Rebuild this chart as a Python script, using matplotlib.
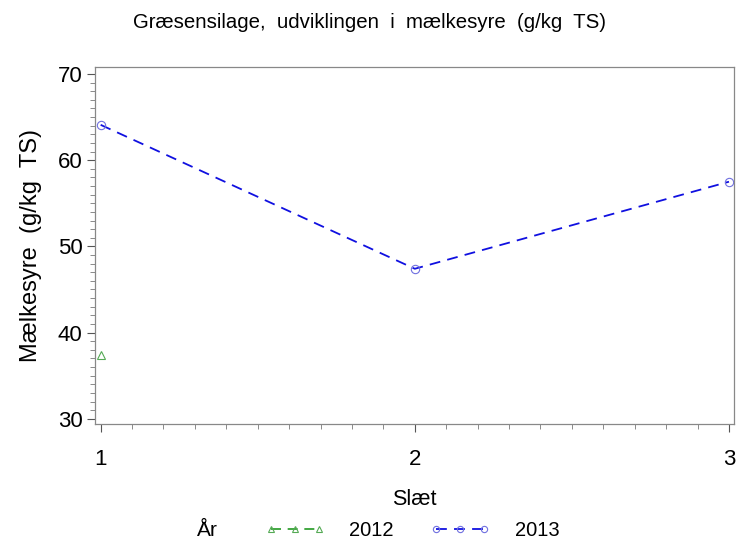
import matplotlib
matplotlib.use('Agg')
import matplotlib.pyplot as plt
from matplotlib.ticker import MultipleLocator

plt.rcParams['font.family'] = ['Liberation Sans', 'DejaVu Sans']

# data
slaet_2012 = [1]
maelk_2012 = [37.4]
slaet_2013 = [1, 2, 3]
maelk_2013 = [64.1, 47.4, 57.5]
xticks = [1, 2, 3]
yticks = [30, 40, 50, 60, 70]

fig = plt.figure(figsize=(7.36, 5.42), dpi=100)
ax = fig.add_axes([95/736, 1-424/542, (734-95)/736, (424-67)/542])

ax.plot(slaet_2012, maelk_2012, color='#229922', linestyle=(0, (6, 4)), lw=1.2,
        marker='^', markersize=6, markerfacecolor='none', markeredgecolor='#55aa55',
        markeredgewidth=0.8, label='2012')
ax.plot(slaet_2013, maelk_2013, color='#1010e0', linestyle=(0, (6, 4)), lw=1.3,
        marker='o', markersize=6, markerfacecolor='none', markeredgecolor='#7070e0',
        markeredgewidth=0.8, label='2013')

ax.set_xlim(0.982, 3.016)
ax.set_ylim(29.39, 70.81)
ax.set_xticks(xticks)
ax.set_yticks(yticks)
ax.xaxis.set_minor_locator(MultipleLocator(0.1))
ax.yaxis.set_minor_locator(MultipleLocator(1))
ax.tick_params(which='major', direction='out', length=6, width=0.8, color='#555555',
               labelsize=16)
ax.tick_params(axis='x', which='major', pad=12)
ax.tick_params(axis='y', which='major', pad=3)
ax.tick_params(which='minor', direction='out', length=3.5, width=0.6, color='#777777')
for s in ax.spines.values():
    s.set_color('#888888')
    s.set_linewidth(0.9)

ax.set_xlabel('Slæt', fontsize=15.5, labelpad=14)
ax.set_ylabel('Mælkesyre  (g/kg  TS)', fontsize=17, labelpad=11)
fig.text(370/736, 1-22/542, 'Græsensilage,  udviklingen  i  mælkesyre  (g/kg  TS)',
         ha='center', va='center', fontsize=14.7)

fig.text(207/736, 1-531/542, 'År', ha='center', va='center', fontsize=15)
fig.legend(loc='center', bbox_to_anchor=(412/736, 1-531/542), ncol=2, frameon=False,
           numpoints=3, markerscale=0.75, handlelength=3.0, handletextpad=1.2,
           columnspacing=1.8, fontsize=14.5)

fig.savefig('out.png', dpi=100)
